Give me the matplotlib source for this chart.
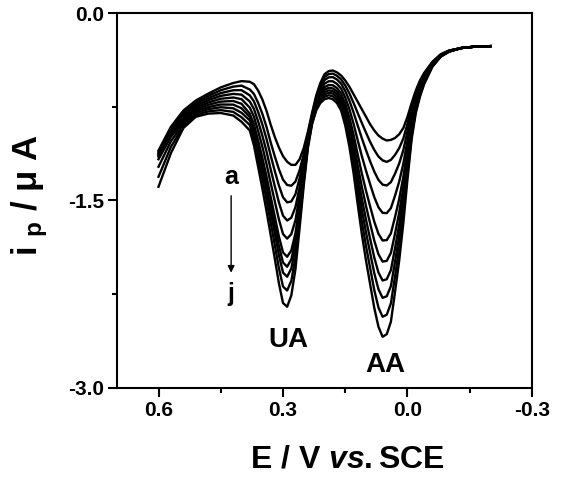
import matplotlib
matplotlib.use('Agg')
from matplotlib import pyplot as plt
from matplotlib.ticker import FixedLocator

plt.rcParams['font.family'] = ['Liberation Sans', 'DejaVu Sans']
plt.rcParams['font.weight'] = 'bold'
plt.rcParams['axes.unicode_minus'] = False
plt.rcParams['mathtext.fontset'] = 'custom'
plt.rcParams['mathtext.rm'] = 'Liberation Sans:bold'
plt.rcParams['mathtext.it'] = 'Liberation Sans:bold:italic'
plt.rcParams['mathtext.bf'] = 'Liberation Sans:bold'

# potential grid (V vs. SCE), shared by all curves
E = [0.60, 0.57, 0.54, 0.51, 0.48, 0.45, 0.42, 0.40,
     0.38, 0.37, 0.36, 0.35, 0.34, 0.33, 0.32, 0.31, 0.30, 0.29, 0.28, 0.27,
     0.26, 0.25, 0.24, 0.23, 0.22, 0.21,
     0.20, 0.19, 0.18, 0.17, 0.16, 0.15, 0.14, 0.13, 0.12, 0.11, 0.10, 0.09,
     0.08, 0.07, 0.06, 0.05, 0.04, 0.03, 0.02, 0.01, 0.00, -0.01, -0.02,
     -0.03, -0.04, -0.06, -0.08, -0.10, -0.13, -0.16, -0.20]

# current (uA), curves a (top) .. j (bottom)
curve_a = [-1.10, -0.91, -0.78, -0.70, -0.645, -0.595, -0.56, -0.545,
           -0.55, -0.57, -0.62, -0.69, -0.78, -0.89, -0.99, -1.075, -1.145, -1.19, -1.215, -1.215,
           -1.17, -1.08, -0.95, -0.80, -0.66, -0.56,
           -0.49, -0.465, -0.46, -0.475, -0.50, -0.54, -0.59, -0.65, -0.71, -0.77, -0.83, -0.89,
           -0.94, -0.98, -1.005, -1.02, -1.015, -1.00, -0.97, -0.92, -0.83, -0.72, -0.62,
           -0.54, -0.48, -0.39, -0.33, -0.30, -0.28, -0.27, -0.265]
curve_b = [-1.11, -0.92, -0.796, -0.714, -0.663, -0.618, -0.589, -0.581,
           -0.612, -0.648, -0.718, -0.804, -0.908, -1.031, -1.145, -1.249, -1.333, -1.376, -1.382, -1.349,
           -1.258, -1.128, -0.971, -0.814, -0.679, -0.586,
           -0.512, -0.489, -0.485, -0.502, -0.531, -0.580, -0.643, -0.719, -0.800, -0.880, -0.957, -1.031,
           -1.096, -1.148, -1.179, -1.191, -1.175, -1.135, -1.081, -1.004, -0.885, -0.752, -0.640,
           -0.554, -0.490, -0.394, -0.332, -0.301, -0.28, -0.27, -0.265]
curve_c = [-1.12, -0.93, -0.811, -0.729, -0.681, -0.641, -0.618, -0.617,
           -0.659, -0.707, -0.791, -0.889, -1.004, -1.136, -1.262, -1.379, -1.474, -1.515, -1.508, -1.449,
           -1.324, -1.164, -0.986, -0.825, -0.694, -0.605,
           -0.536, -0.515, -0.513, -0.532, -0.565, -0.624, -0.701, -0.796, -0.900, -1.002, -1.097, -1.187,
           -1.269, -1.335, -1.373, -1.380, -1.353, -1.285, -1.204, -1.096, -0.946, -0.787, -0.662,
           -0.570, -0.501, -0.399, -0.335, -0.302, -0.28, -0.27, -0.265]
curve_d = [-1.13, -0.94, -0.827, -0.743, -0.698, -0.663, -0.647, -0.653,
           -0.708, -0.768, -0.867, -0.978, -1.104, -1.246, -1.383, -1.514, -1.621, -1.660, -1.638, -1.553,
           -1.393, -1.202, -1.003, -0.836, -0.709, -0.625,
           -0.565, -0.546, -0.546, -0.567, -0.605, -0.675, -0.770, -0.886, -1.018, -1.145, -1.261, -1.370,
           -1.473, -1.554, -1.599, -1.601, -1.561, -1.461, -1.349, -1.205, -1.018, -0.829, -0.688,
           -0.589, -0.514, -0.405, -0.338, -0.304, -0.28, -0.27, -0.265]
curve_e = [-1.14, -0.955, -0.842, -0.758, -0.716, -0.686, -0.676, -0.689,
           -0.757, -0.830, -0.943, -1.066, -1.204, -1.356, -1.504, -1.650, -1.768, -1.805, -1.769, -1.658,
           -1.462, -1.239, -1.019, -0.848, -0.724, -0.645,
           -0.593, -0.576, -0.578, -0.601, -0.644, -0.725, -0.837, -0.974, -1.132, -1.284, -1.421, -1.548,
           -1.670, -1.766, -1.820, -1.817, -1.763, -1.632, -1.489, -1.311, -1.087, -0.869, -0.713,
           -0.607, -0.526, -0.411, -0.340, -0.305, -0.28, -0.27, -0.265]
curve_f = [-1.15, -0.97, -0.858, -0.772, -0.734, -0.709, -0.704, -0.726,
           -0.806, -0.891, -1.020, -1.155, -1.304, -1.466, -1.625, -1.786, -1.915, -1.950, -1.900, -1.762,
           -1.530, -1.277, -1.035, -0.859, -0.739, -0.665,
           -0.614, -0.599, -0.603, -0.627, -0.674, -0.764, -0.888, -1.041, -1.219, -1.391, -1.544, -1.685,
           -1.822, -1.930, -1.989, -1.983, -1.919, -1.764, -1.597, -1.392, -1.141, -0.900, -0.732,
           -0.621, -0.536, -0.415, -0.342, -0.306, -0.28, -0.27, -0.265]
curve_g = [-1.17, -0.99, -0.873, -0.787, -0.752, -0.732, -0.733, -0.762,
           -0.832, -0.925, -1.062, -1.204, -1.359, -1.527, -1.692, -1.861, -1.996, -2.030, -1.972, -1.820,
           -1.568, -1.297, -1.044, -0.865, -0.747, -0.676,
           -0.633, -0.619, -0.625, -0.650, -0.700, -0.798, -0.934, -1.101, -1.297, -1.486, -1.653, -1.807,
           -1.957, -2.076, -2.140, -2.130, -2.057, -1.881, -1.693, -1.464, -1.188, -0.928, -0.749,
           -0.633, -0.544, -0.419, -0.344, -0.307, -0.28, -0.27, -0.265]
curve_h = [-1.23, -1.025, -0.889, -0.801, -0.769, -0.754, -0.762, -0.798,
           -0.859, -0.959, -1.104, -1.253, -1.414, -1.588, -1.759, -1.935, -2.077, -2.110, -2.044, -1.877,
           -1.606, -1.318, -1.053, -0.871, -0.755, -0.687,
           -0.651, -0.638, -0.645, -0.672, -0.725, -0.829, -0.976, -1.157, -1.369, -1.574, -1.755, -1.919,
           -2.082, -2.210, -2.279, -2.266, -2.185, -1.989, -1.782, -1.531, -1.232, -0.953, -0.765,
           -0.645, -0.552, -0.422, -0.346, -0.308, -0.28, -0.27, -0.265]
curve_i = [-1.31, -1.07, -0.904, -0.816, -0.787, -0.777, -0.791, -0.834,
           -0.896, -1.005, -1.162, -1.321, -1.490, -1.671, -1.851, -2.039, -2.188, -2.220, -2.143, -1.957,
           -1.658, -1.346, -1.065, -0.880, -0.767, -0.702,
           -0.670, -0.658, -0.667, -0.695, -0.752, -0.864, -1.022, -1.216, -1.447, -1.669, -1.864, -2.041,
           -2.217, -2.356, -2.430, -2.414, -2.323, -2.106, -1.878, -1.603, -1.280, -0.981, -0.782,
           -0.657, -0.561, -0.426, -0.348, -0.309, -0.28, -0.27, -0.265]
curve_j = [-1.39, -1.12, -0.92, -0.83, -0.805, -0.80, -0.82, -0.87,
           -0.94, -1.06, -1.23, -1.40, -1.58, -1.77, -1.96, -2.16, -2.32, -2.35, -2.26, -2.05,
           -1.72, -1.38, -1.08, -0.89, -0.78, -0.72,
           -0.69, -0.68, -0.69, -0.72, -0.78, -0.90, -1.07, -1.28, -1.53, -1.77, -1.98, -2.17,
           -2.36, -2.51, -2.59, -2.57, -2.47, -2.23, -1.98, -1.68, -1.33, -1.01, -0.80,
           -0.67, -0.57, -0.43, -0.35, -0.31, -0.28, -0.27, -0.265]

curves = [curve_a, curve_b, curve_c, curve_d, curve_e,
          curve_f, curve_g, curve_h, curve_i, curve_j]

x_major = [0.6, 0.3, 0.0, -0.3]
x_minor = [0.45, 0.15, -0.15]
y_major = [0.0, -1.5, -3.0]
y_minor = [-0.75, -2.25]

fig = plt.figure(figsize=(5.62, 4.80), dpi=100)
ax = fig.add_axes([0.2082, 0.1917, 0.7384, 0.7812])

for c in curves:
    ax.plot(E, c, color='black', lw=1.7, solid_joinstyle='round')

ax.set_xlim(0.7, -0.3)
ax.set_ylim(-3.0, 0.0)

ax.xaxis.set_major_locator(FixedLocator(x_major))
ax.xaxis.set_minor_locator(FixedLocator(x_minor))
ax.yaxis.set_major_locator(FixedLocator(y_major))
ax.yaxis.set_minor_locator(FixedLocator(y_minor))
ax.set_xticklabels(['%.1f' % v for v in x_major])
ax.set_yticklabels(['%.1f' % v for v in y_major])

ax.tick_params(which='major', direction='out', length=6.5, width=1.5,
               labelsize=15, pad=3)
ax.tick_params(which='minor', direction='out', length=3.5, width=1.5)
ax.tick_params(top=False, right=False)
for sp in ax.spines.values():
    sp.set_linewidth(1.5)
for lab in ax.get_xticklabels() + ax.get_yticklabels():
    lab.set_fontweight('bold')

# axis titles
fig.text(347 / 562, 1 - 460 / 480, r'E / V $\mathit{vs.}$SCE', fontsize=23,
         fontweight='bold', ha='center', va='center')
fig.text(30 / 562, 1 - 195 / 480, r'i $_{\mathrm{p}}$ / μ A', fontsize=25,
         fontweight='bold', ha='center', va='center', rotation=90)

# peak labels and arrow a -> j
ax.text(0.288, -2.62, 'UA', fontsize=20, fontweight='bold', ha='center', va='center')
ax.text(0.054, -2.82, 'AA', fontsize=20, fontweight='bold', ha='center', va='center')
ax.text(0.425, -1.31, 'a', fontsize=18, fontweight='bold', ha='center', va='center')
ax.text(0.425, -2.25, 'j', fontsize=18, fontweight='bold', ha='center', va='center')
ax.annotate('', xy=(0.425, -2.10), xytext=(0.425, -1.44),
            arrowprops=dict(arrowstyle='-|>', color='black', lw=1.0,
                            mutation_scale=10))

fig.savefig('out.png', dpi=100)
